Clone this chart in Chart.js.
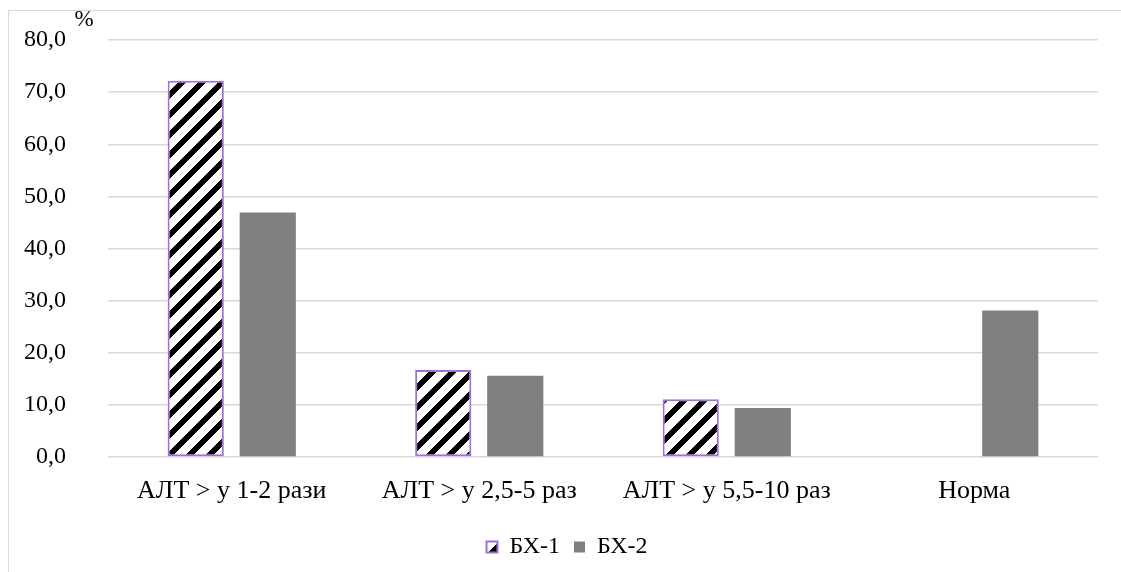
<!DOCTYPE html>
<html>
<head>
<meta charset="utf-8">
<style>
  html, body { margin: 0; padding: 0; background: #fff; }
  #wrap { position: relative; width: 1121px; height: 572px; }
</style>
<script src="https://cdn.jsdelivr.net/npm/chart.js@4/dist/chart.umd.min.js"></script>
</head>
<body>
<div id="wrap"><canvas id="c" width="1121" height="572"></canvas></div>
<script>
// Categories and series (% of patients)
const categories = ['АЛТ > у 1-2 рази', 'АЛТ > у 2,5-5 раз', 'АЛТ > у 5,5-10 раз', 'Норма'];
const seriesNames = ['БХ-1', 'БХ-2'];
const bx1Values = [72.2, 16.7, 11.1, 0];
const bx2Values = [46.9, 15.6, 9.4, 28.1];
const yTicks = [0, 10, 20, 30, 40, 50, 60, 70, 80];
const unitLabel = '%';

// Diagonal black/white hatching for the first series
function makeHatch() {
  const size = 20;
  const c = document.createElement('canvas');
  c.width = size; c.height = size;
  const g = c.getContext('2d');
  const img = g.createImageData(size, size);
  for (let y = 0; y < size; y++) {
    for (let x = 0; x < size; x++) {
      const on = ((x + y) % size) < 8;
      const i = (y * size + x) * 4;
      const v = on ? 0 : 255;
      img.data[i] = v; img.data[i + 1] = v; img.data[i + 2] = v; img.data[i + 3] = 255;
    }
  }
  g.putImageData(img, 0, 0);
  return g.createPattern(c, 'repeat');
}
const hatch = makeHatch();

const fontFamily = '"Liberation Serif", "Times New Roman", serif';

// Outer frame and the unit mark above the value axis
const framePlugin = {
  id: 'frame',
  afterLayout(chart) {
    // nudge the legend a little to the right of the canvas centre
    if (chart.legend) {
      chart.legend.left += 18;
      chart.legend.right += 18;
    }
  },
  afterDraw(chart) {
    const ctx = chart.ctx;
    ctx.save();
    ctx.strokeStyle = '#d9d9d9';
    ctx.lineWidth = 1;
    ctx.strokeRect(8.5, 10.5, 1300, 800);
    ctx.fillStyle = '#000';
    ctx.font = '23px ' + fontFamily;
    ctx.textAlign = 'center';
    ctx.textBaseline = 'middle';
    ctx.fillText(unitLabel, 84, 20);
    ctx.restore();
  }
};

new Chart(document.getElementById('c'), {
  type: 'bar',
  data: {
    labels: categories,
    datasets: [
      {
        label: seriesNames[0],
        data: bx1Values,
        backgroundColor: hatch,
        borderColor: '#a070d8',
        borderWidth: 2,
        borderSkipped: false,
        categoryPercentage: 0.582,
        barPercentage: 0.78
      },
      {
        label: seriesNames[1],
        data: bx2Values,
        backgroundColor: '#808080',
        borderWidth: 0,
        categoryPercentage: 0.582,
        barPercentage: 0.78
      }
    ]
  },
  options: {
    responsive: false,
    animation: false,
    devicePixelRatio: 1,
    layout: { padding: { left: 0, right: 23, top: 40, bottom: 3 } },
    plugins: {
      legend: {
        position: 'bottom',
        labels: {
          font: { family: fontFamily, size: 24 },
          color: '#000',
          boxWidth: 11,
          boxHeight: 11,
          padding: 14
        }
      },
      tooltip: { enabled: false }
    },
    scales: {
      x: {
        afterFit(scale) { scale.height = 64; },
        grid: { display: false },
        border: { display: false },
        ticks: {
          font: { family: fontFamily, size: 26 },
          color: '#000',
          padding: 11
        }
      },
      y: {
        min: 0,
        max: 80,
        afterBuildTicks(scale) { scale.ticks = yTicks.map(v => ({ value: v })); },
        afterFit(scale) { scale.width = 108; scale.paddingTop = 0; },
        grid: { color: '#d9d9d9', lineWidth: 1.5, drawTicks: false },
        border: { display: false },
        ticks: {
          font: { family: fontFamily, size: 24 },
          color: '#000',
          padding: 42,
          callback: v => v.toFixed(1).replace('.', ',')
        }
      }
    }
  },
  plugins: [framePlugin]
});
</script>
</body>
</html>
